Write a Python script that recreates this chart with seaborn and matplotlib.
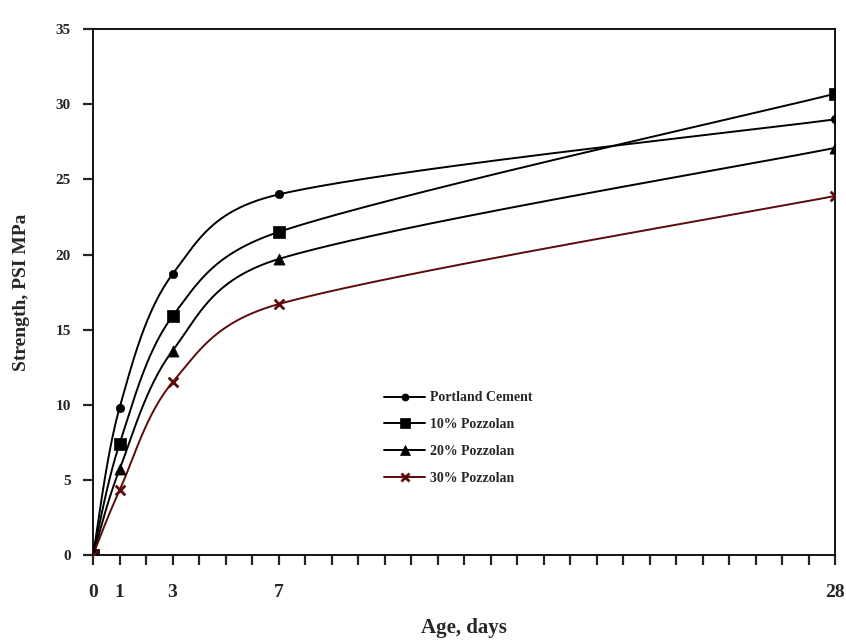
import numpy as np
import pandas as pd
import matplotlib
matplotlib.use("Agg")
import matplotlib.pyplot as plt
from matplotlib.lines import Line2D
import seaborn as sns

# ---- data ----
days = [0, 1, 3, 7, 28]
portland = [0, 9.8, 18.7, 24.0, 29.0]
pozz10 = [0, 7.4, 15.9, 21.5, 30.7]
pozz20 = [0, 5.7, 13.6, 19.7, 27.1]
pozz30 = [0, 4.3, 11.5, 16.7, 23.9]
series_names = ["Portland Cement", "10% Pozzolan", "20% Pozzolan", "30% Pozzolan"]
x_tick_labels = ["0", "1", "3", "7", "28"]
y_ticks = [0, 5, 10, 15, 20, 25, 30, 35]

series = [portland, pozz10, pozz20, pozz30]
colors = ["black", "black", "black", "#5c0a0a"]
markers = ["o", "s", "^", "x"]
msizes = [6, 8, 8, 7]

sns.set_style("ticks")
plt.rcParams["font.family"] = ["Liberation Serif", "DejaVu Serif"]
plt.rcParams["font.weight"] = "bold"

XMAX, YMAX = 28, 35


def smooth_curve(x, y, sx, sy, n=80):
    """Excel-style smoothed line (Bezier, tangents clamped to half the segment),
    computed in screen units; used only for drawing the line through the points."""
    P = np.column_stack([np.asarray(x, float) * sx, np.asarray(y, float) * sy])
    ext = np.vstack([P[0], P, P[-1]])
    t = np.linspace(0, 1, n)[:, None]
    segs = []
    for i in range(len(P) - 1):
        p0, p1, p2, p3 = ext[i], ext[i + 1], ext[i + 2], ext[i + 3]
        half = np.linalg.norm(p2 - p1) / 2.0
        v1 = (p2 - p0) / 6.0
        v2 = (p3 - p1) / 6.0
        for v in (v1, v2):
            L = np.linalg.norm(v)
            if L > half and L > 0:
                v *= half / L
        c1 = p1 + v1
        c2 = p2 - v2
        seg = ((1 - t) ** 3) * p1 + 3 * ((1 - t) ** 2) * t * c1 + 3 * (1 - t) * t ** 2 * c2 + t ** 3 * p2
        segs.append(seg if i == 0 else seg[1:])
    out = np.vstack(segs)
    return out[:, 0] / sx, out[:, 1] / sy


fig = plt.figure(figsize=(8.46, 6.42), dpi=100)
ax = fig.add_axes([0.110, 0.1355, 0.877, 0.819])
bbox = ax.get_window_extent()
sx = bbox.width / XMAX
sy = bbox.height / YMAX

handles = []
for name, vals, col, mk, ms in zip(series_names, series, colors, markers, msizes):
    cx, cy = smooth_curve(days, vals, sx, sy)
    dfc = pd.DataFrame({"x": cx, "y": cy})
    sns.lineplot(data=dfc, x="x", y="y", sort=False, estimator=None,
                 color=col, linewidth=1.4, ax=ax, legend=False)
    dfp = pd.DataFrame({"x": days, "y": vals})
    if mk == "x":
        sns.scatterplot(data=dfp, x="x", y="y", marker="x", s=ms ** 2,
                        color=col, linewidth=2, ax=ax, legend=False, zorder=3)
    else:
        sns.scatterplot(data=dfp, x="x", y="y", marker=mk, s=ms ** 2,
                        color=col, edgecolor=col, linewidth=0.5, ax=ax, legend=False, zorder=3)
    handles.append(Line2D([0], [0], color=col, lw=1.4, marker=mk, markersize=ms * 0.85,
                          markeredgewidth=2 if mk == "x" else 0.5, label=name))

ax.set_xlim(0, XMAX)
ax.set_ylim(0, YMAX)
ax.set_xticks(days)
ax.set_xticklabels(x_tick_labels, fontsize=14, fontweight="bold")
ax.set_xticks(np.arange(0, 29, 1), minor=True)
ax.set_yticks(y_ticks)
ax.set_yticklabels([str(v) for v in y_ticks], fontsize=11, fontweight="bold")

ax.tick_params(axis="y", which="major", direction="out", length=7, width=1.6, pad=9)
ax.tick_params(axis="x", which="major", direction="out", length=7, width=1.6, pad=14)
ax.tick_params(axis="x", which="minor", direction="out", length=7, width=1.6)
for sp in ax.spines.values():
    sp.set_visible(True)
    sp.set_linewidth(1.3)
    sp.set_color("black")

ax.set_xlabel("Age, days", fontsize=15, fontweight="bold", labelpad=12)
ax.set_ylabel("Strength, PSI MPa", fontsize=14, fontweight="bold", labelpad=18)

ax.legend(handles=handles, loc="upper left", bbox_to_anchor=(0.375, 0.335),
          frameon=False, handlelength=3.0, labelspacing=1.0,
          handletextpad=0.3, prop={"family": "Liberation Serif", "weight": "bold", "size": 10})

fig.savefig("out.png", dpi=100)
